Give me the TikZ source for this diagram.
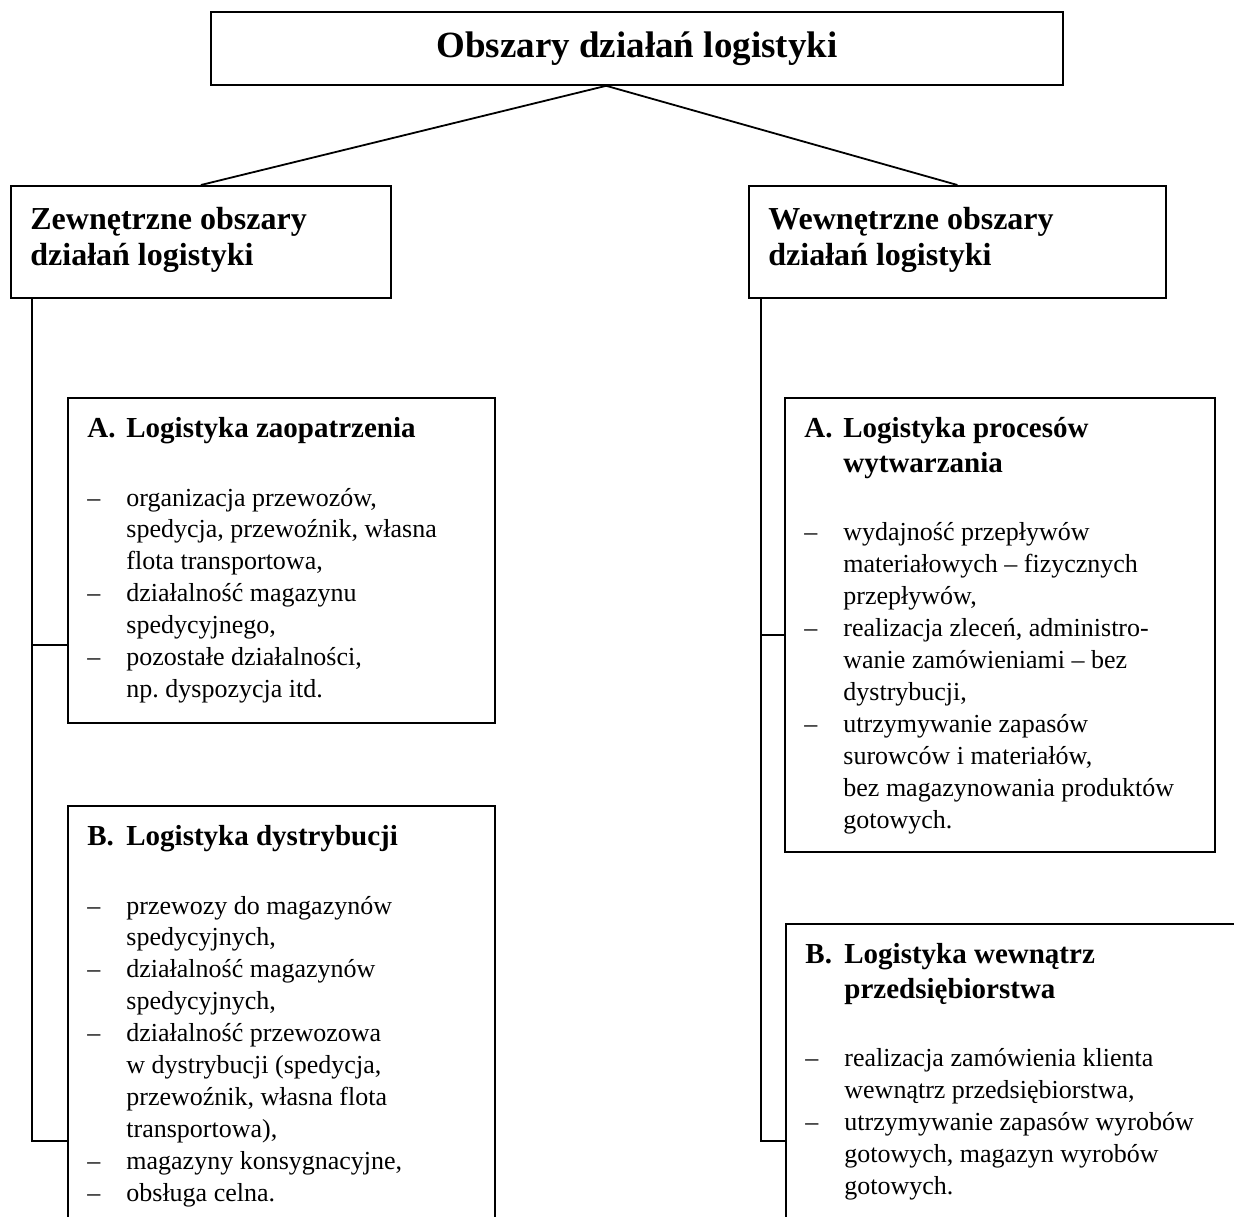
\documentclass[tikz,border=0pt]{standalone}
\usepackage{fontspec}
\setmainfont{Liberation Serif}
\usetikzlibrary{positioning, calc}

% punkt z myslnikiem i wiersz kontynuacji
\newcommand{\pkt}[1]{\makebox[19.5pt][l]{–}#1}
\newcommand{\dal}[1]{\hspace*{19.5pt}#1}
\newcommand{\nagl}[2]{{\fontsize{14.5}{17.5}\selectfont\bfseries\makebox[19.5pt][l]{#1}#2}}

\tikzset{
  ramka/.style={draw, line width=0.9pt, anchor=north west, inner sep=0pt},
  opis/.style={anchor=north west, inner sep=0pt, align=left, font=\fontsize{13}{15.95}\selectfont},
  glowny/.style={anchor=north west, inner sep=0pt, align=left, font=\fontsize{16}{18}\selectfont\bfseries},
  linia/.style={line width=0.9pt},
}

\begin{document}
\begin{tikzpicture}[x=0.5pt, y=-0.5pt]
  \useasboundingbox (0,0) rectangle (1234,1216);
  \clip (0,0) rectangle (1234,1216);

  % tytul
  \node[ramka, minimum width=426pt, minimum height=36.5pt, font=\fontsize{18.5}{22}\selectfont\bfseries] (tytul) at (210,11) {Obszary działań logistyki};

  % dwa obszary
  \node[ramka, minimum width=190pt, minimum height=56pt] (zewn) at (10,185) {};
  \node[ramka, minimum width=208.5pt, minimum height=56pt] (wewn) at (748,185) {};
  \node[glowny] (zewnT) at ([shift={(20,22)}]zewn.north west) {Zewnętrzne obszary\\działań logistyki};
  \node[glowny] (wewnT) at ([shift={(20,22)}]wewn.north west) {Wewnętrzne obszary\\działań logistyki};

  \coordinate (szczyt) at ($(tytul.south west)!0.464!(tytul.south east)$);
  \draw[linia] (szczyt) -- (zewn.north);
  \draw[linia] (szczyt) -- (wewn.north);

  % lewa strona
  \node[ramka, minimum width=213.5pt, minimum height=162.5pt] (zaop) at (67,397) {};
  \node[opis] (zaopT) at ([shift={(20,20)}]zaop.north west) {%
    \nagl{A.}{Logistyka zaopatrzenia}\\[18.3pt]
    \pkt{organizacja przewozów,}\\
    \dal{spedycja, przewoźnik, własna}\\
    \dal{flota transportowa,}\\
    \pkt{działalność magazynu}\\
    \dal{spedycyjnego,}\\
    \pkt{pozostałe działalności,}\\
    \dal{np.\ dyspozycja itd.}};

  \node[ramka, minimum width=213.5pt, minimum height=250pt] (dystr) at (67,805) {};
  \node[opis] (dystrT) at ([shift={(20,20)}]dystr.north west) {%
    \nagl{B.}{Logistyka dystrybucji}\\[18.3pt]
    \pkt{przewozy do magazynów}\\
    \dal{spedycyjnych,}\\
    \pkt{działalność magazynów}\\
    \dal{spedycyjnych,}\\
    \pkt{działalność przewozowa}\\
    \dal{w dystrybucji (spedycja,}\\
    \dal{przewoźnik, własna flota}\\
    \dal{transportowa),}\\
    \pkt{magazyny konsygnacyjne,}\\
    \pkt{obsługa celna.}};

  \coordinate (lpion) at ([xshift=11pt]zewn.south west);
  \coordinate (lA) at ([yshift=-124pt]zaop.north west);
  \coordinate (lB) at ([yshift=-168pt]dystr.north west);
  \draw[linia] (lpion) |- (lA);
  \draw[linia] (lpion) |- (lB);

  % prawa strona
  \node[ramka, minimum width=215pt, minimum height=227pt] (wytw) at (784,397) {};
  \node[opis] (wytwT) at ([shift={(20,20)}]wytw.north west) {%
    \nagl{A.}{Logistyka procesów}\\[1.5pt]
    \nagl{}{wytwarzania}\\[18.3pt]
    \pkt{wydajność przepływów}\\
    \dal{materiałowych – fizycznych}\\
    \dal{przepływów,}\\
    \pkt{realizacja zleceń, administro-}\\
    \dal{wanie zamówieniami – bez}\\
    \dal{dystrybucji,}\\
    \pkt{utrzymywanie zapasów}\\
    \dal{surowców i materiałów,}\\
    \dal{bez magazynowania produktów}\\
    \dal{gotowych.}};

  \node[ramka, minimum width=250pt, minimum height=200pt] (wewnp) at (785,923) {};
  \node[opis] (wewnpT) at ([shift={(20,20)}]wewnp.north west) {%
    \nagl{B.}{Logistyka wewnątrz}\\[1.5pt]
    \nagl{}{przedsiębiorstwa}\\[18.3pt]
    \pkt{realizacja zamówienia klienta}\\
    \dal{wewnątrz przedsiębiorstwa,}\\
    \pkt{utrzymywanie zapasów wyrobów}\\
    \dal{gotowych, magazyn wyrobów}\\
    \dal{gotowych.}};

  \coordinate (ppion) at ([xshift=6.5pt]wewn.south west);
  \coordinate (pA) at ([yshift=-119pt]wytw.north west);
  \coordinate (pB) at ([yshift=-109pt]wewnp.north west);
  \draw[linia] (ppion) |- (pA);
  \draw[linia] (ppion) |- (pB);
\end{tikzpicture}
\end{document}
